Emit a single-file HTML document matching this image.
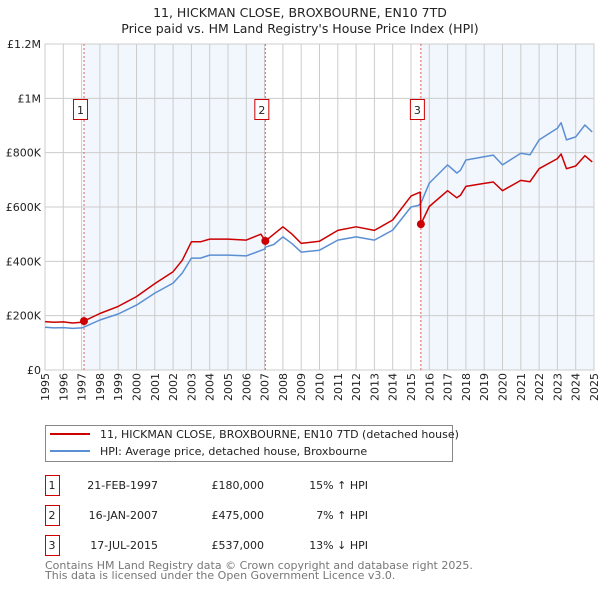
<!DOCTYPE html>
<html><head><meta charset="utf-8"><style>
body{margin:0;background:#fff;}
svg{font-family:"DejaVu Sans","Liberation Sans",sans-serif;}
</style></head><body>
<svg id="c" width="600" height="590" viewBox="0 0 600 590">
<text x="300" y="17" text-anchor="middle" font-size="12.5" fill="#222">11, HICKMAN CLOSE, BROXBOURNE, EN10 7TD</text>
<text x="300" y="33" text-anchor="middle" font-size="12.5" fill="#222">Price paid vs. HM Land Registry's House Price Index (HPI)</text>
<g id="plot"></g>
<g>
<rect x="45.5" y="425.5" width="407" height="36" fill="#fff" stroke="#888"/>
<line x1="50" y1="434" x2="90" y2="434" stroke="#cc0000" stroke-width="2"/>
<text x="100" y="438" font-size="11" fill="#222">11, HICKMAN CLOSE, BROXBOURNE, EN10 7TD (detached house)</text>
<line x1="50" y1="451" x2="90" y2="451" stroke="#5b8fd4" stroke-width="2"/>
<text x="100" y="455" font-size="11" fill="#222">HPI: Average price, detached house, Broxbourne</text>
</g>
<g id="table" font-size="11" fill="#222"></g>
<text x="45" y="569" font-size="11" fill="#777">Contains HM Land Registry data © Crown copyright and database right 2025.</text>
<text x="45" y="579" font-size="11" fill="#777">This data is licensed under the Open Government Licence v3.0.</text>
</svg>
<script>
const hpiDates=[1995,1995.5,1996,1996.5,1997,1997.13,1998,1999,2000,2001,2002,2002.5,2003,2003.5,2004,2005,2006,2007,2007.04,2007.5,2008,2008.5,2009,2010,2011,2012,2013,2014,2015,2015.4,2015.54,2016,2017,2017.5,2017.7,2018,2019,2019.5,2020,2021,2021.5,2022,2023,2023.2,2023.5,2024,2024.5,2024.9];
const hpiValues=[157,155,156,153,155,158,184,206,239,283,320,357,412,412,423,423,420,445,452,462,490,465,434,441,478,490,478,515,600,606,614,688,755,725,735,773,785,791,755,798,792,847,890,910,847,858,902,876];
const redDates=[1995,1995.5,1996,1996.5,1997,1997.13,1998,1999,2000,2001,2002,2002.5,2003,2003.5,2004,2005,2006,2006.8,2007.04,2007.5,2008,2008.5,2009,2010,2011,2012,2013,2014,2015,2015.5,2015.54,2016,2017,2017.5,2017.7,2018,2019,2019.5,2020,2021,2021.5,2022,2023,2023.2,2023.5,2024,2024.5,2024.9];
const redValues=[178,176,177,173,176,180,208,234,270,318,362,404,472,472,482,482,478,500,475,500,527,500,466,474,514,527,514,552,640,655,537,602,660,634,643,676,687,692,660,698,693,741,778,795,741,751,789,766];
const sales=[{n:"1",t:1997.13,v:180,date:"21-FEB-1997",price:"£180,000",hpi:"15% ↑ HPI"},{n:"2",t:2007.04,v:475,date:"16-JAN-2007",price:"£475,000",hpi:"7% ↑ HPI"},{n:"3",t:2015.54,v:537,date:"17-JUL-2015",price:"£537,000",hpi:"13% ↓ HPI"}];
const yTicks=[0,200,400,600,800,1000,1200];
const yLabels=["£0","£200K","£400K","£600K","£800K","£1M","£1.2M"];
const xYears=[1995,1996,1997,1998,1999,2000,2001,2002,2003,2004,2005,2006,2007,2008,2009,2010,2011,2012,2013,2014,2015,2016,2017,2018,2019,2020,2021,2022,2023,2024,2025];
const L=45,R=594,T=44,B=370;
const X=t=>L+(t-1995)/30*(R-L);
const Y=v=>B-v/1200*(B-T);
const NS="http://www.w3.org/2000/svg";
const g=document.getElementById('plot');
function mk(tag,attrs,parent){const e=document.createElementNS(NS,tag);for(const k in attrs)e.setAttribute(k,attrs[k]);(parent||g).appendChild(e);return e;}
const bg=mk('rect',{x:L,y:T,width:R-L,height:B-T,fill:'#fff',stroke:'#ccc'});


[[sales[0].t,sales[1].t],[sales[2].t,2025]].forEach(s=>{const r=mk('rect',{x:X(s[0]),y:T,width:X(s[1])-X(s[0]),height:B-T,fill:'#f2f6fd'});

});
xYears.forEach(y=>{const l=mk('line',{x1:X(y),x2:X(y),y1:T,y2:B,stroke:'#ccc'});


const tx=X(y)+4,ty=B+3;
const t=mk('text',{x:tx,y:ty,'text-anchor':'end','font-size':'11',fill:'#222',transform:'rotate(-90 '+tx+' '+ty+')'});t.textContent=y;

});
yTicks.forEach((v,i)=>{const l=mk('line',{x1:L,x2:R,y1:Y(v),y2:Y(v),stroke:'#ccc'});


const t=mk('text',{x:L-4,y:Y(v)+4,'text-anchor':'end','font-size':'11',fill:'#222'});t.textContent=yLabels[i];

});
sales.forEach(s=>{const l=mk('line',{x1:X(s.t),x2:X(s.t),y1:T,y2:B,stroke:'#e06060','stroke-dasharray':'2,2'});

});
function path(d,v,c,name){const p=mk('path',{d:d.map((t,i)=>(i?'L':'M')+X(t).toFixed(1)+','+Y(v[i]).toFixed(1)).join(''),fill:'none',stroke:c,'stroke-width':'1.5','stroke-linejoin':'round'});

}
path(hpiDates,hpiValues,'#5b8fd4','hpi-line');
path(redDates,redValues,'#cc0000','price-paid-line');
sales.forEach(s=>{const c=mk('circle',{cx:X(s.t),cy:Y(s.v),r:4,fill:'#cc0000'});


const bx=X(s.t)-11;
const r=mk('rect',{x:bx+0.5,y:99.5,width:14,height:20,fill:'#fff',stroke:'#cc0000'});


const t=mk('text',{x:bx+7.5,y:114,'text-anchor':'middle','font-size':'11',fill:'#222'});t.textContent=s.n;

});
const tb=document.getElementById('table');
sales.forEach((s,i)=>{const y0=475+i*30;
const r=mk('rect',{x:45.5,y:y0+0.5,width:14,height:20,fill:'#fff',stroke:'#cc0000'},tb);


[[52,s.n,'middle'],[158,s.date,'end'],[264,s.price,'end'],[368,s.hpi,'end']].forEach(c=>{const t=mk('text',{x:c[0],y:y0+14,'text-anchor':c[2]},tb);t.textContent=c[1];

});});
</script>
</body></html>
